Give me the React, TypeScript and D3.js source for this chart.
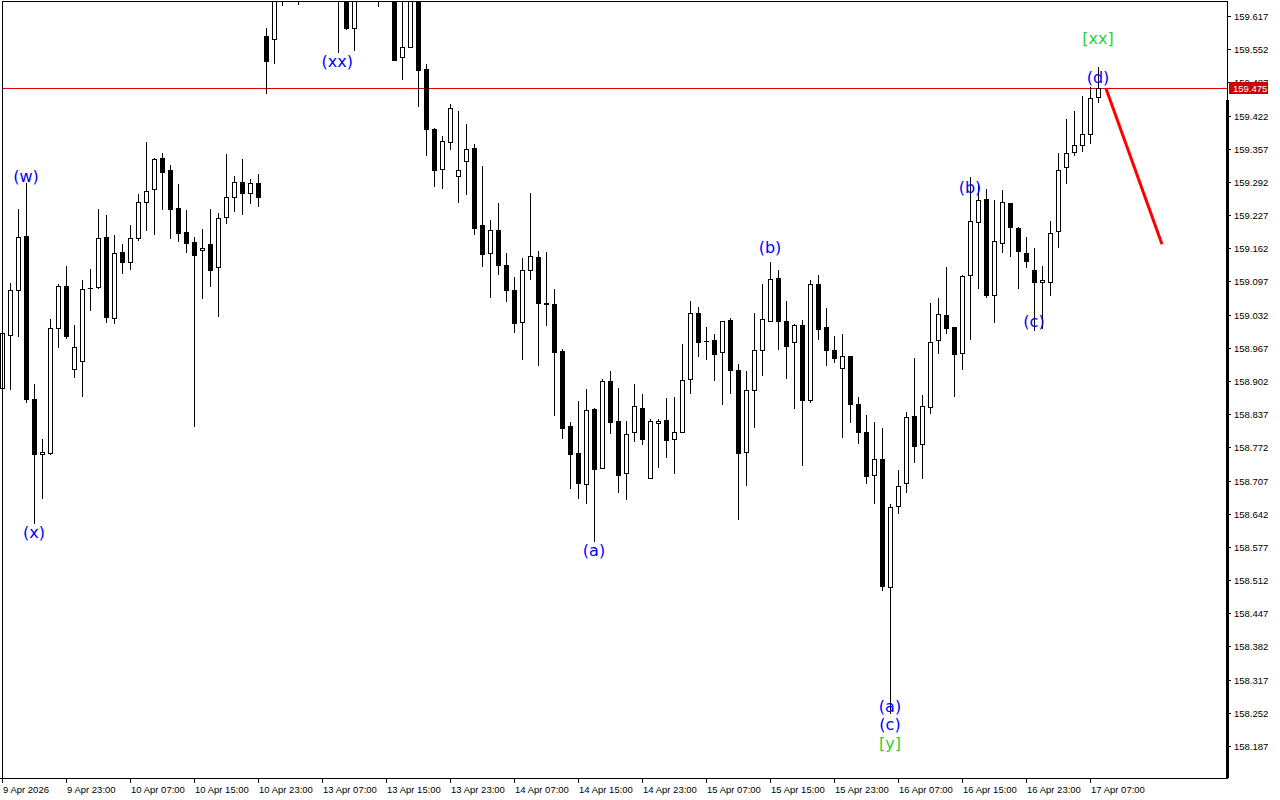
import React from "react";
import * as d3 from "d3";

const openP = [158.888,158.992,159.080,159.186,158.866,158.759,158.761,159.005,159.088,158.925,158.941,159.085,159.086,159.184,159.025,159.154,159.135,159.182,159.252,159.278,159.339,159.315,159.241,159.194,159.174,159.158,159.170,159.125,159.223,159.262,159.291,159.270,159.289,159.577,159.572,159.677,159.700,159.690,159.672,159.695,159.720,159.700,159.680,159.665,159.593,159.672,159.685,159.675,159.665,159.680,159.536,159.556,159.670,159.513,159.395,159.317,159.370,159.303,159.333,159.358,159.207,159.152,159.197,159.129,159.080,159.017,159.119,159.144,159.054,159.052,158.960,158.813,158.761,158.700,158.847,158.731,158.902,158.823,158.721,158.802,158.849,158.712,158.819,158.825,158.788,158.802,158.906,159.035,158.981,158.982,158.958,159.021,158.923,158.763,158.884,158.962,159.019,159.103,159.019,158.978,159.011,158.864,159.092,159.007,158.962,158.927,158.951,158.857,158.802,158.718,158.749,158.498,158.657,158.702,158.833,158.778,158.851,158.982,159.031,159.007,158.957,159.109,159.213,159.258,159.070,159.172,159.250,159.201,159.152,159.119,159.096,159.096,159.195,159.321,159.350,159.364,159.385,159.458];
const highP = [159.002,159.094,159.239,159.290,158.896,158.788,159.023,159.092,159.127,159.011,159.100,159.121,159.239,159.227,159.188,159.170,159.207,159.268,159.370,159.339,159.348,159.325,159.288,159.237,159.184,159.199,159.239,159.231,159.346,159.303,159.337,159.297,159.307,159.593,159.697,159.726,159.735,159.720,159.710,159.740,159.750,159.730,159.700,159.690,159.700,159.700,159.710,159.700,159.690,159.700,159.660,159.690,159.690,159.523,159.397,159.382,159.444,159.431,159.405,159.366,159.323,159.217,159.250,159.152,159.105,159.143,159.270,159.156,159.154,159.082,158.964,158.821,158.862,158.886,158.849,158.906,158.921,158.888,158.823,158.896,158.876,158.827,158.827,158.868,158.870,158.974,159.058,159.047,159.007,158.994,159.019,159.025,158.935,158.921,159.035,159.092,159.135,159.119,159.058,159.013,159.021,159.100,159.109,159.045,158.990,158.994,158.951,158.870,158.835,158.821,158.810,158.661,158.727,158.841,158.947,158.874,159.054,159.064,159.125,159.007,159.109,159.301,159.286,159.278,159.256,159.276,159.250,159.203,159.184,159.162,159.127,159.215,159.348,159.415,159.431,159.460,159.478,159.517];
const lowP = [158.880,158.886,158.990,158.861,158.623,158.672,158.759,158.968,158.986,158.910,158.872,159.041,159.084,159.017,159.015,159.113,159.121,159.178,159.197,159.190,159.239,159.182,159.176,159.154,158.813,159.064,159.088,159.029,159.211,159.235,159.229,159.250,159.244,159.466,159.525,159.638,159.660,159.640,159.655,159.680,159.690,159.665,159.547,159.592,159.550,159.655,159.660,159.636,159.652,159.530,159.493,159.556,159.440,159.344,159.284,159.280,159.356,159.252,159.268,159.190,159.127,159.066,159.111,159.058,158.998,158.945,159.101,158.933,159.011,158.835,158.790,158.692,158.672,158.663,158.588,158.731,158.800,158.684,158.671,158.784,158.778,158.712,158.733,158.753,158.721,158.802,158.878,158.951,158.945,158.904,158.857,158.878,158.631,158.698,158.812,158.913,159.019,158.964,158.908,158.849,158.737,158.861,158.984,158.933,158.939,158.792,158.821,158.780,158.702,158.663,158.492,158.251,158.643,158.684,158.743,158.712,158.839,158.957,158.996,158.872,158.925,158.984,159.084,159.066,159.017,159.154,159.146,159.084,159.125,159.002,159.005,159.070,159.164,159.290,159.344,159.352,159.368,159.448];
const closeP = [158.996,159.080,159.184,158.866,158.759,158.763,159.005,159.088,158.990,158.968,159.082,159.084,159.182,159.027,159.152,159.135,159.182,159.252,159.274,159.337,159.311,159.239,159.192,159.172,159.149,159.162,159.119,159.221,159.262,159.291,159.270,159.289,159.262,159.528,159.668,159.697,159.690,159.670,159.695,159.720,159.700,159.680,159.665,159.594,159.672,159.685,159.675,159.665,159.680,159.530,159.556,159.670,159.511,159.395,159.315,159.372,159.436,159.315,159.356,159.201,159.150,159.197,159.129,159.080,159.015,159.119,159.146,159.054,159.053,158.958,158.810,158.759,158.702,158.845,158.729,158.902,158.821,158.718,158.798,158.853,158.788,158.823,158.823,158.786,158.802,158.904,159.035,158.978,158.980,158.955,159.019,158.923,158.761,158.884,158.962,159.023,159.101,159.019,158.970,159.011,158.864,159.092,159.003,158.962,158.947,158.951,158.857,158.802,158.716,158.749,158.500,158.655,158.696,158.831,158.774,158.853,158.978,159.033,159.005,158.955,159.107,159.215,159.256,159.070,159.176,159.252,159.203,159.156,159.137,159.096,159.100,159.192,159.315,159.348,159.364,159.385,159.456,159.475];

const priceTicks = [159.617,159.552,159.487,159.422,159.357,159.292,159.227,159.162,159.097,159.032,158.967,158.902,158.837,158.772,158.707,158.642,158.577,158.512,158.447,158.382,158.317,158.252,158.187];
const timeLabels = ["9 Apr 2026","9 Apr 23:00","10 Apr 07:00","10 Apr 15:00","10 Apr 23:00","13 Apr 07:00","13 Apr 15:00","13 Apr 23:00","14 Apr 07:00","14 Apr 15:00","14 Apr 23:00","15 Apr 07:00","15 Apr 15:00","15 Apr 23:00","16 Apr 07:00","16 Apr 15:00","16 Apr 23:00","17 Apr 07:00"];
const timeLabelBars = [0,8,16,24,32,40,48,56,64,72,80,88,96,104,112,120,128,136];

const lastPrice = 159.475;
const forecastBars = [138, 145];
const forecastPrices = [159.475, 159.170];

const waveText = ["(w)","(x)","(xx)","(a)","(b)","(b)","(c)","(d)","[xx]","(a)","(c)","[y]"];
const waveBar = [3,4,41.9,74,96,121,129,137,137,111,111,111];
const wavePrice = [159.303,158.606,159.528,158.569,159.164,159.282,159.019,159.497,159.572,158.265,158.230,158.192];
const waveColor = ["blue","blue","blue","blue","blue","blue","blue","blue","green","blue","blue","green"];

const W = 1280, H = 800;
const plotRight = 1227, plotBottom = 778;

export default function App() {
  const x = d3.scaleLinear().domain([0, 137]).range([2, 1098]);
  const y = d3.scaleLinear().domain([158.187, 159.617]).range([746, 16]);
  const ry = (p: number) => Math.round(y(p));
  const axisFont = "'Liberation Sans', Arial, sans-serif";

  return (
    <div style={{ position: "fixed", left: 0, top: 0, width: W, height: H, background: "#fff" }}>
      <svg width={W} height={H} style={{ display: "block" }} shapeRendering="crispEdges">
        <defs>
          <clipPath id="plot">
            <rect x={0} y={2} width={plotRight} height={plotBottom - 2} />
          </clipPath>
        </defs>
        <rect x={0} y={0} width={W} height={H} fill="#fff" />
        <g clipPath="url(#plot)">
          <line x1={2} x2={plotRight} y1={ry(lastPrice) + 0.5} y2={ry(lastPrice) + 0.5} stroke="#e00000" strokeWidth={1} />
          {openP.map((o, i) => {
            const c = closeP[i];
            const cx = Math.round(x(i));
            const top = ry(Math.max(o, c));
            const bot = ry(Math.min(o, c));
            const bull = c > o;
            return (
              <g key={i}>
                <line x1={cx + 0.5} x2={cx + 0.5} y1={ry(highP[i])} y2={ry(lowP[i]) + 1} stroke="#000" strokeWidth={1} />
                {bot - top < 1 ? (
                  <line x1={cx - 2} x2={cx + 3} y1={top + 0.5} y2={top + 0.5} stroke="#000" strokeWidth={1} />
                ) : (
                  <rect x={cx - 2 + 0.5} y={top + 0.5} width={4} height={bot - top} fill={bull ? "#fff" : "#000"} stroke="#000" strokeWidth={1} />
                )}
              </g>
            );
          })}
          <line
            x1={x(forecastBars[0])} y1={y(forecastPrices[0])}
            x2={x(forecastBars[1])} y2={y(forecastPrices[1])}
            stroke="#ff0000" strokeWidth={3} shapeRendering="auto" />
        </g>
        {/* frame */}
        <line x1={2.5} x2={2.5} y1={1} y2={plotBottom} stroke="#000" />
        <line x1={2} x2={plotRight} y1={1.5} y2={1.5} stroke="#000" />
        <line x1={0} x2={plotRight + 1} y1={plotBottom + 0.5} y2={plotBottom + 0.5} stroke="#000" />
        <line x1={plotRight + 0.5} x2={plotRight + 0.5} y1={1} y2={plotBottom + 1} stroke="#000" />
        <rect x={plotRight - 1} y={100} width={3} height={plotBottom - 100} fill="#000" />
        {/* price axis */}
        {priceTicks.map((p, i) => (
          <g key={i}>
            <line x1={plotRight} x2={plotRight + 4} y1={ry(p) + 0.5} y2={ry(p) + 0.5} stroke="#000" />
            <text x={plotRight + 7} y={ry(p) + 0.5} fontFamily={axisFont} fontSize={9.5} dominantBaseline="central" fill="#000" shapeRendering="auto">{p.toFixed(3)}</text>
          </g>
        ))}
        <rect x={plotRight + 2} y={ry(lastPrice) - 6} width={39} height={12} fill="#cc0000" />
        <text x={plotRight + 6} y={ry(lastPrice) + 0.5} fontFamily={axisFont} fontSize={9.5} dominantBaseline="central" fill="#fff">{lastPrice.toFixed(3)}</text>
        {/* time axis */}
        {timeLabels.map((t, i) => {
          const tx = Math.round(x(timeLabelBars[i]));
          return (
            <g key={i}>
              <line x1={tx + 0.5} x2={tx + 0.5} y1={plotBottom} y2={plotBottom + 5} stroke="#000" />
              <text x={tx + 1} y={789} fontFamily={axisFont} fontSize={9.5} dominantBaseline="central" fill="#000">{t}</text>
            </g>
          );
        })}
        {/* wave labels */}
        {waveText.map((t, i) => (
          <text key={i} x={x(waveBar[i])} y={y(wavePrice[i])} textAnchor="middle" dominantBaseline="central"
            fontFamily="'DejaVu Sans', sans-serif" fontSize={16}
            fill={waveColor[i] === "green" ? "#32cd32" : "#0000ff"}>{t}</text>
        ))}
      </svg>
    </div>
  );
}
